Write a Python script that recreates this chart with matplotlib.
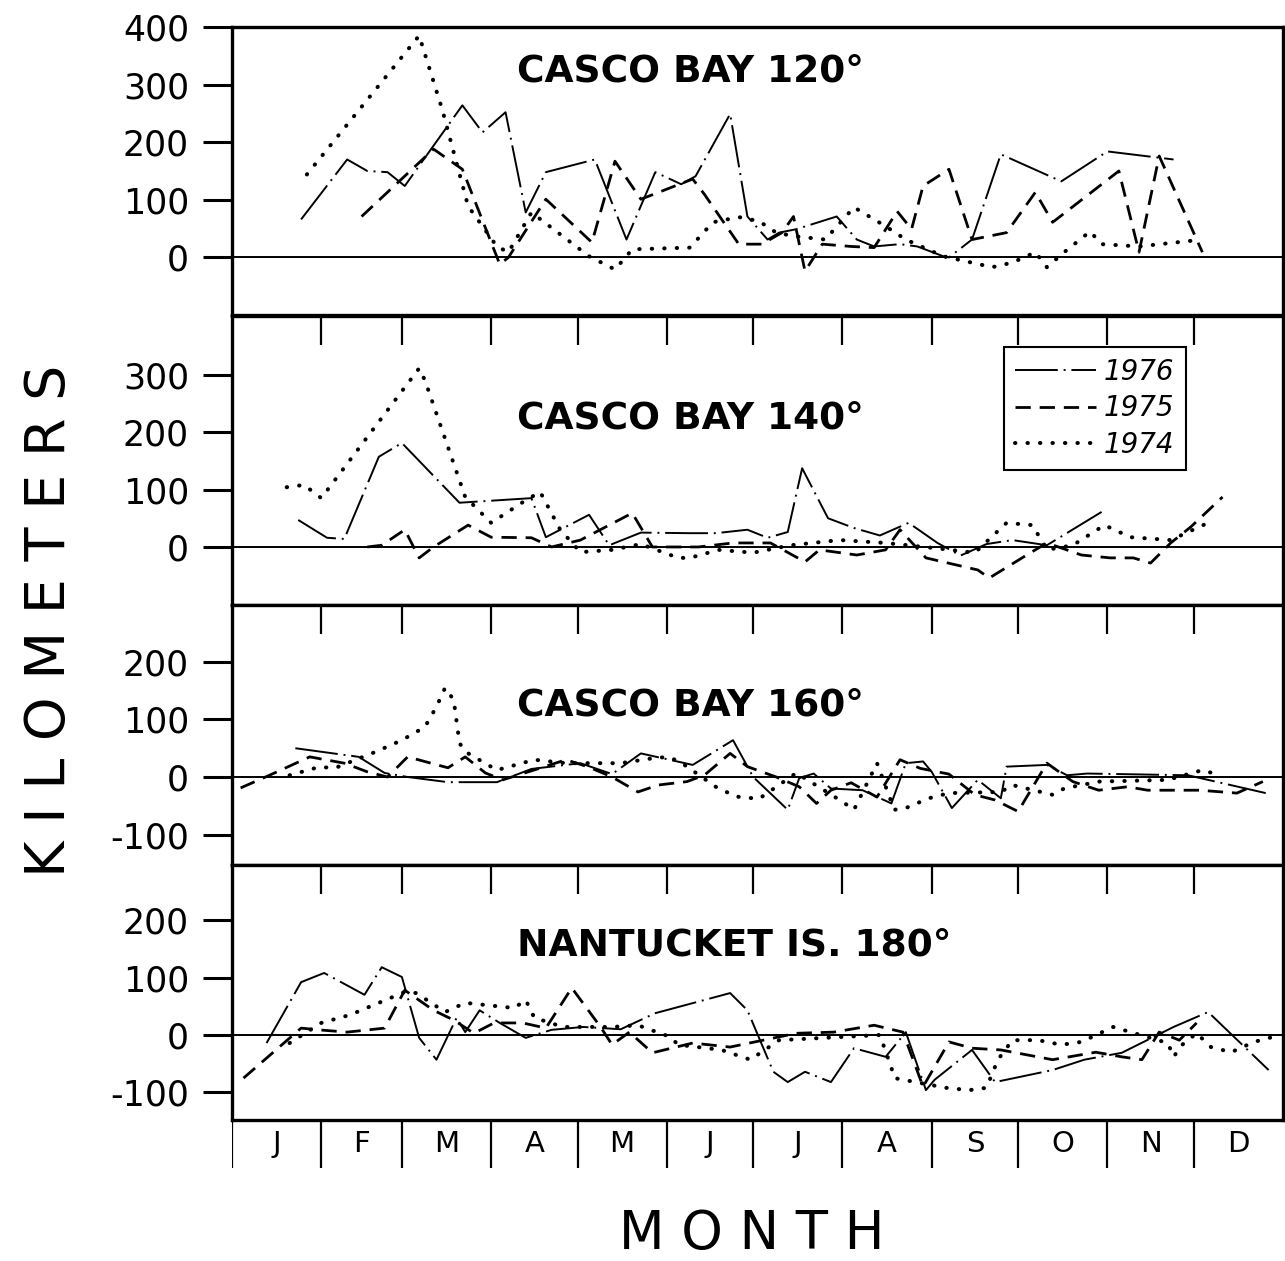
import matplotlib
matplotlib.use("Agg")
import matplotlib.pyplot as plt

# ---------------- data (x = day of year, y = kilometers) ----------------
MONTHS = ['J', 'F', 'M', 'A', 'M', 'J', 'J', 'A', 'S', 'O', 'N', 'D']
MONTH_START_DAYS = [0, 31, 59, 90, 120, 151, 181, 212, 243, 273, 304, 334, 365]
YEARS = ['1976', '1975', '1974']
PANEL_TITLES = ['CASCO BAY 120°', 'CASCO BAY 140°', 'CASCO BAY 160°', 'NANTUCKET IS. 180°']

# Casco Bay 120
cb120_1976_x = [24, 40, 47, 54, 60, 80, 87, 95, 102, 109, 126, 137, 147, 156, 161, 173, 179, 186, 190, 196,
                210, 217, 223, 232, 238, 247, 249, 257, 267, 288, 304, 327]
cb120_1976_y = [66, 170, 150, 148, 124, 264, 217, 252, 78, 148, 170, 31, 148, 127, 141, 249, 71, 31, 43, 49,
                71, 31, 19, 23, 19, 2, 0, 31, 179, 132, 184, 170]
cb120_1975_x = [45, 70, 80, 93, 96, 109, 125, 133, 142, 160, 164, 176, 184, 191, 195, 199, 205, 215, 223, 231,
                236, 240, 249, 257, 269, 279, 285, 308, 315, 322, 337]
cb120_1975_y = [71, 188, 153, -12, 0, 101, 26, 167, 101, 136, 110, 23, 23, 43, 71, -24, 23, 19, 17, 80,
                49, 124, 153, 31, 43, 113, 61, 150, 9, 176, 9]
cb120_1974_x = [26, 65, 73, 82, 92, 96, 104, 124, 133, 139, 159, 167, 176, 183, 189, 195, 206, 216, 227, 234,
                247, 264, 271, 279, 283, 289, 298, 302, 315, 337]
cb120_1974_y = [144, 385, 257, 89, 19, 9, 78, 2, -21, 14, 17, 61, 70, 63, 43, 37, 31, 87, 54, 31,
                2, -17, -9, 9, -17, 9, 45, 23, 19, 31]

# Casco Bay 140
cb140_1976_x = [23, 33, 39, 51, 59, 79, 104, 109, 124, 131, 142, 159, 168, 179, 186, 193, 198, 207, 216, 225,
                235, 245, 253, 262, 271, 283, 302]
cb140_1976_y = [47, 16, 14, 157, 181, 77, 85, 17, 56, 3, 25, 24, 24, 30, 16, 26, 137, 50, 33, 20,
                42, 7, -15, 5, 12, 3, 61]
cb140_1975_x = [47, 52, 60, 65, 70, 82, 90, 104, 111, 121, 139, 146, 162, 174, 187, 199, 204, 217, 227, 232,
                241, 259, 263, 276, 283, 295, 305, 313, 319, 326, 333, 344]
cb140_1975_y = [0, 3, 30, -19, 0, 38, 17, 16, 0, 12, 59, 0, 0, 7, 7, -26, -5, -14, -5, 30,
                -19, -40, -54, -14, 7, -14, -19, -19, -28, 7, 35, 87]
cb140_1974_x = [19, 25, 31, 65, 67, 81, 90, 101, 107, 114, 121, 132, 142, 155, 159, 169, 181, 194, 211, 227,
                246, 258, 269, 278, 283, 292, 303, 312, 326, 339]
cb140_1974_y = [104, 108, 85, 311, 290, 87, 42, 78, 96, 30, -9, -5, 5, -19, -19, -5, -10, 3, 12, 7,
                -3, -10, 42, 38, -5, 3, 38, 17, 12, 42]

# Casco Bay 160
cb160_1976_x = [22, 44, 53, 61, 75, 84, 92, 104, 121, 132, 142, 160, 174, 181, 193, 197, 202, 208, 219, 229,
                234, 240, 243, 250, 259, 267, 269, 283, 290, 297, 332, 359]
cb160_1976_y = [50, 35, 7, 0, -9, -9, -9, 14, 24, 5, 41, 21, 64, 0, -57, -2, 6, -20, -23, -46,
                24, 27, 9, -54, -5, -37, 18, 21, 3, 6, 3, -28]
cb160_1975_x = [3, 13, 27, 39, 47, 54, 61, 75, 81, 88, 94, 108, 116, 124, 132, 141, 148, 158, 164, 173,
                179, 189, 197, 203, 208, 215, 224, 232, 239, 249, 258, 265, 273, 283, 292, 301, 311, 318,
                327, 336, 349, 358]
cb160_1975_y = [-19, 3, 35, 24, 9, 0, 35, 16, 35, 7, -5, 17, 30, 17, 0, -26, -14, -8, 3, 41,
                18, 0, -17, -46, -23, -10, -35, 30, 15, 5, -31, -40, -60, 24, -8, -23, -17, -23,
                -23, -23, -28, -8]
cb160_1974_x = [20, 30, 36, 50, 59, 67, 71, 74, 77, 79, 81, 92, 105, 116, 135, 148, 152, 156, 168, 175,
                183, 196, 212, 216, 224, 230, 234, 242, 249, 267, 271, 285, 289, 301, 325, 337, 341]
cb160_1974_y = [3, 17, 16, 44, 64, 87, 122, 155, 134, 59, 44, 12, 30, 24, 24, 34, 34, 25, -17, -34,
                -38, 7, -43, -57, 24, -57, -54, -37, -28, -26, -14, -31, -20, -8, -5, 12, 6]

# Nantucket Is. 180
nt180_1976_x = [12, 24, 32, 46, 52, 59, 65, 71, 78, 81, 86, 93, 102, 111, 122, 135, 147, 173, 179, 188,
                193, 199, 208, 216, 227, 234, 241, 244, 257, 265, 285, 296, 309, 327, 339, 360]
nt180_1976_y = [-14, 92, 108, 70, 118, 101, -5, -43, 30, 5, 43, 21, -5, 9, 14, 10, 38, 73, 43, -64,
                -82, -64, -82, -23, -38, 5, -96, -78, -26, -82, -61, -43, -31, 14, 40, -61]
nt180_1975_x = [4, 24, 30, 40, 53, 60, 70, 77, 84, 91, 101, 109, 118, 128, 132, 138, 146, 160, 173, 196,
                209, 223, 233, 240, 249, 257, 267, 285, 300, 309, 316, 322, 329, 335]
nt180_1975_y = [-75, 12, 9, 5, 12, 78, 43, 26, 3, 21, 21, 12, 82, 14, -17, 5, -31, -14, -21, 3,
                5, 17, 5, -90, -12, -23, -26, -43, -30, -38, -43, 5, -9, 21]
nt180_1974_x = [20, 31, 41, 51, 60, 64, 74, 81, 98, 102, 105, 115, 132, 141, 152, 155, 170, 180, 190, 225,
                229, 230, 248, 256, 262, 266, 271, 280, 288, 295, 306, 325, 327, 330, 335, 340, 347, 355, 364]
nt180_1974_y = [-14, 21, 35, 56, 75, 73, 40, 56, 47, 61, 30, 14, 14, 17, -3, -17, -26, -43, -9, 0,
                -57, -75, -92, -96, -92, -43, -9, -9, -17, -12, 14, -14, -38, -17, 3, -21, -30, -12, 0]

PANEL_YTICKS = [[0, 100, 200, 300, 400], [0, 100, 200, 300], [-100, 0, 100, 200], [-100, 0, 100, 200]]
PANEL_YLIMS = [(-100, 400), (-101, 402), (-153, 299), (-148, 296)]

# ---------------- styling ----------------
W, H = 1285, 1261
fig = plt.figure(figsize=(W / 100, H / 100), dpi=100)
plt.rcParams['font.family'] = ['DejaVu Sans']

def px_axes(left, top, right, bottom):
    return fig.add_axes([left / W, 1 - bottom / H, (right - left) / W, (bottom - top) / H])

panel_px = [(27, 315), (316, 605), (605, 865), (865, 1120)]
styles = {
    '1976': dict(color='black', lw=1.4, linestyle=(0, (22, 3, 1, 3))),
    '1975': dict(color='black', lw=2.0, linestyle=(0, (5.5, 3.2))),
    '1974': dict(color='black', lw=2.9, linestyle=(0, (0.1, 3.0)), dash_capstyle='round'),
}
series = [
    [(cb120_1976_x, cb120_1976_y), (cb120_1975_x, cb120_1975_y), (cb120_1974_x, cb120_1974_y)],
    [(cb140_1976_x, cb140_1976_y), (cb140_1975_x, cb140_1975_y), (cb140_1974_x, cb140_1974_y)],
    [(cb160_1976_x, cb160_1976_y), (cb160_1975_x, cb160_1975_y), (cb160_1974_x, cb160_1974_y)],
    [(nt180_1976_x, nt180_1976_y), (nt180_1975_x, nt180_1975_y), (nt180_1974_x, nt180_1974_y)],
]
title_y = [0.844, 0.647, 0.615, 0.686]

axes = []
for i, (top, bot) in enumerate(panel_px):
    ax = px_axes(232, top, 1283, bot)
    axes.append(ax)
    for year, (xs, ys) in zip(YEARS, series[i]):
        ax.plot(xs, ys, label=year, **styles[year])
    ax.axhline(0, color='black', lw=1.4, zorder=1)
    ax.set_xlim(MONTH_START_DAYS[0], MONTH_START_DAYS[-1])
    ax.set_ylim(*PANEL_YLIMS[i])
    for s in ax.spines.values():
        s.set_linewidth(2.4)
    ax.set_yticks(PANEL_YTICKS[i])
    ax.set_yticklabels([str(v) for v in PANEL_YTICKS[i]])
    ax.tick_params(axis='y', direction='out', length=21, width=2.2, labelsize=25, pad=10)
    if i == 0:
        ax.set_xticks([])
    else:
        ax.set_xticks(MONTH_START_DAYS[1:-1])
        ax.tick_params(axis='x', direction='in', length=21, width=1.6,
                       top=True, bottom=False, labeltop=False, labelbottom=False)
    ax.text(0.271, title_y[i], PANEL_TITLES[i], transform=ax.transAxes,
            fontsize=27, fontweight='bold', ha='left', va='center')

leg = axes[1].legend(loc='upper left', bbox_to_anchor=(0.7345, 0.893), borderaxespad=0,
                     frameon=True, fancybox=False,
                     edgecolor='black', framealpha=1, handlelength=2.9, handletextpad=0.3,
                     labelspacing=0.3, borderpad=0.4, prop={'style': 'italic', 'size': 20})
leg.get_frame().set_linewidth(1.5)
leg.set_zorder(5)

# month strip
strip = px_axes(232, 1120, 1283, 1168)
strip.set_xlim(MONTH_START_DAYS[0], MONTH_START_DAYS[-1])
strip.set_ylim(0, 1)
strip.axis('off')
strip.vlines(MONTH_START_DAYS[:-1], 0, 1, color='black', lw=1.6)
for k, m in enumerate(MONTHS):
    mid = (MONTH_START_DAYS[k] + MONTH_START_DAYS[k + 1]) / 2
    strip.text(mid, 0.5, m, ha='center', va='center', fontsize=21)

fig.text(50 / W, 1 - 621 / H, 'K I L O M E T E R S', rotation=90, ha='center', va='center', fontsize=40)
fig.text(752 / W, 1 - 1234 / H, 'M O N T H', ha='center', va='center', fontsize=38)

fig.savefig('out.png', dpi=100)
